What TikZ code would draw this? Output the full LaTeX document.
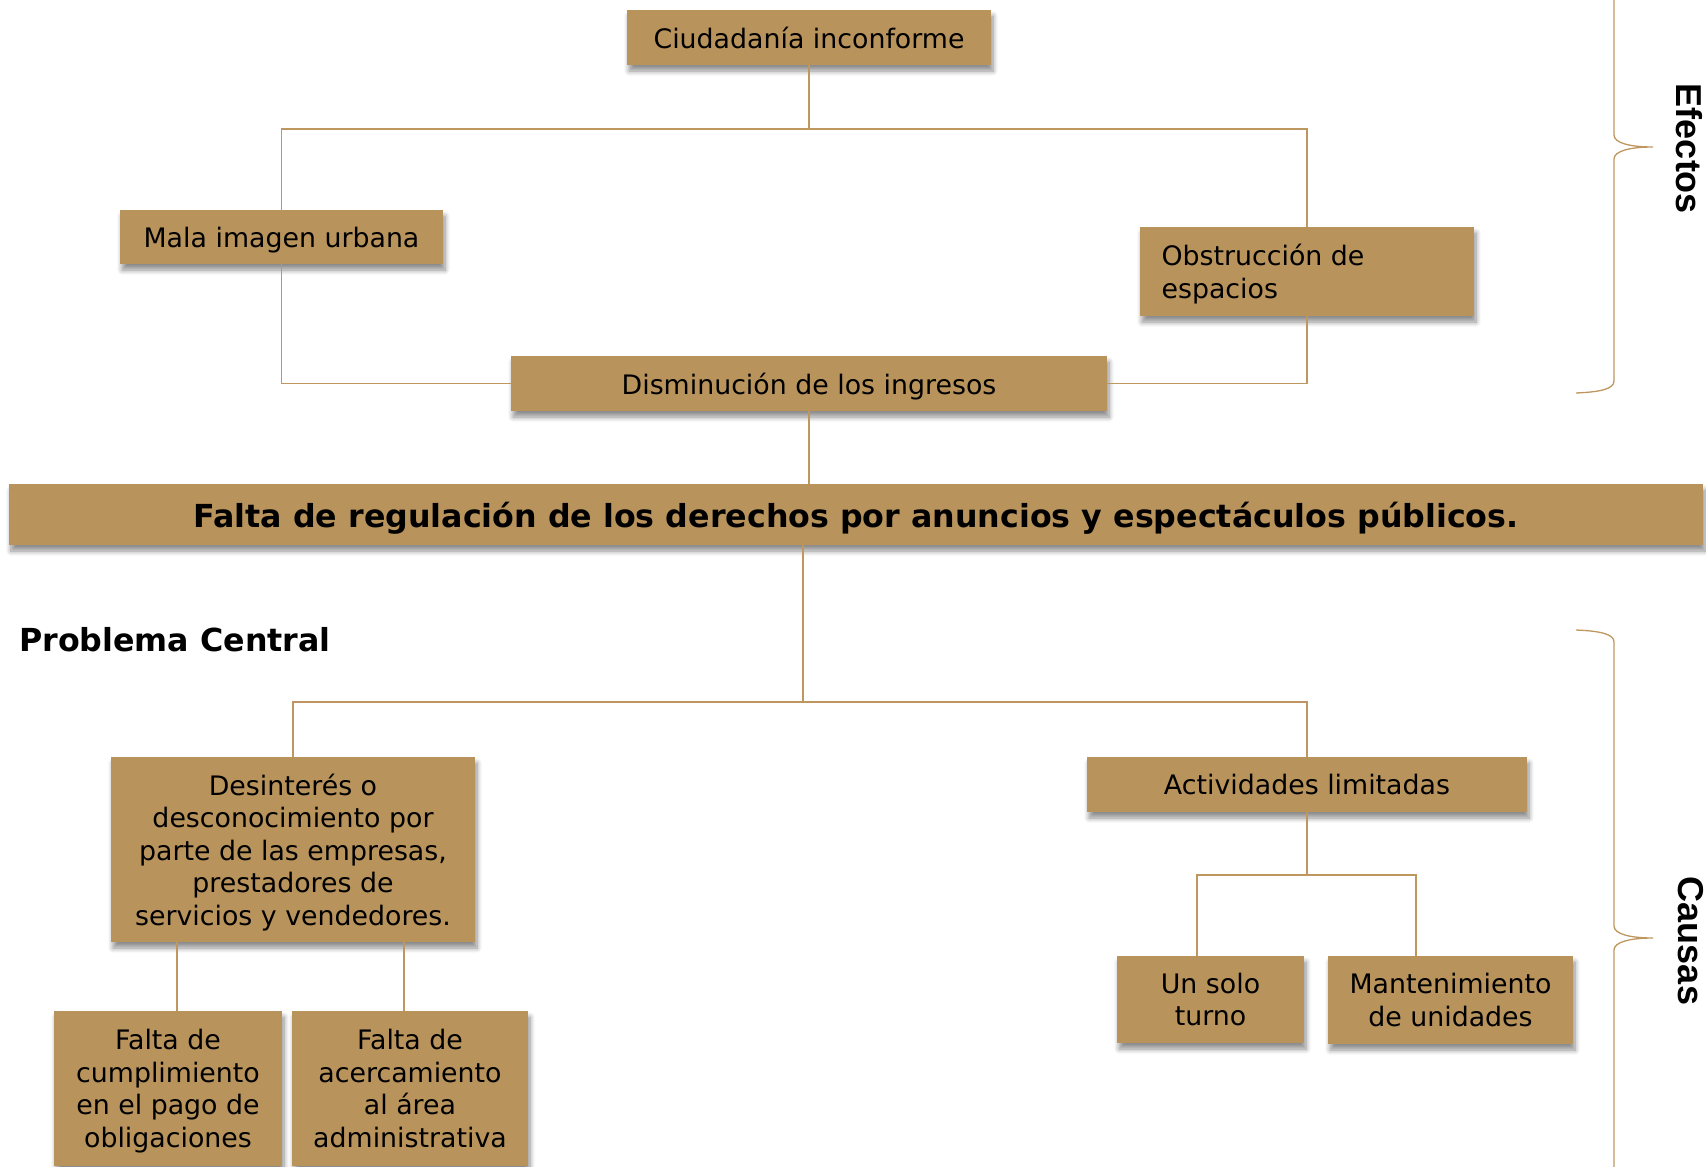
\documentclass[tikz,border=0pt]{standalone}
\usepackage{fontspec}
\setmainfont{DejaVu Sans}
\newfontfamily\brfont{Liberation Sans}
\usetikzlibrary{shadows.blur}
\definecolor{tan}{RGB}{185,147,92}
\definecolor{tanline}{RGB}{190,150,96}
\begin{document}
\begin{tikzpicture}[x=1pt,y=-1pt,
  box/.style={fill=tan, inner sep=0pt, align=center, text depth=0pt, font=\fontsize{26.8}{32.6}\selectfont,
    blur shadow={shadow xshift=2pt, shadow yshift=-6pt, shadow blur steps=8, shadow blur radius=5pt, shadow opacity=45}},
  conn/.style={draw=tanline, line width=1.7pt},
  brace/.style={draw=tanline, line width=1.3pt},
  side/.style={font=\brfont\bfseries\fontsize{36}{40}\selectfont, rotate=-90}]
\useasboundingbox (0,0) rectangle (1706,1167);
% effects
\node[box, minimum width=334pt, minimum height=89pt, align=left] (obst) at (1307,271.5) {Obstrucción de\rule{88pt}{0pt}\\espacios};
\node[box, minimum width=364pt, minimum height=55pt] (ciud) at (809,37.5) {Ciudadanía inconforme};
\node[box, minimum width=323pt, minimum height=54pt] (mala) at (281.5,237) {Mala imagen urbana};
\node[box, minimum width=596pt, minimum height=55pt] (dism) at (809,383.5) {Disminución de los ingresos};
% central
\node[box, minimum width=1694pt, minimum height=61pt, font=\bfseries\fontsize{31.7}{36}\selectfont] (central) at (856,514.5) {Falta de regulación de los derechos por anuncios y espectáculos públicos.};
\node[anchor=west, inner sep=0pt, font=\bfseries\fontsize{31.7}{36}\selectfont] (pc) at (19,640) {Problema Central};
% causes
\node[box, minimum width=364pt, minimum height=185pt] (desint) at (293,849.5) {Desinterés o\\desconocimiento por\\parte de las empresas,\\prestadores de\\servicios y vendedores.};
\node[box, minimum width=228pt, minimum height=155pt] (falta1) at (168,1088.5) {Falta de\\cumplimiento\\en el pago de\\obligaciones};
\node[box, minimum width=236pt, minimum height=155pt] (falta2) at (410,1088.5) {Falta de\\acercamiento\\al área\\administrativa};
\node[box, minimum width=440pt, minimum height=55pt] (activ) at (1307,784.5) {Actividades limitadas};
\node[box, minimum width=187pt, minimum height=87pt] (unsolo) at (1210.5,999.5) {Un solo\\turno};
\node[box, minimum width=245pt, minimum height=88pt] (mant) at (1450.5,1000) {Mantenimiento\\de unidades};
% connectors
\coordinate (eTop) at (809,129);
\draw[conn] (ciud.south) -- (eTop);
\draw[conn] (mala.north) |- (eTop) -| (obst.north);
\draw[conn] (mala.south) |- (dism.west);
\draw[conn] (obst.south) |- (dism.east);
\draw[conn] (dism.south) -- (dism.south |- central.north);
\coordinate (cBot) at (803,702);
\draw[conn] (central.south -| cBot) -- (cBot);
\draw[conn] (desint.north) |- (cBot) -| (activ.north);
\draw[conn] ([xshift=9pt]falta1.north) -- ([xshift=9pt]falta1.north |- desint.south);
\draw[conn] ([xshift=-6pt]falta2.north) -- ([xshift=-6pt]falta2.north |- desint.south);
\coordinate (aMid) at (1307,875);
\draw[conn] (activ.south) -- (aMid);
\draw[conn] ([xshift=-13.5pt]unsolo.north) |- (aMid) -| ([xshift=-34.5pt]mant.north);
% braces
\draw[brace] (1614,-5) -- (1614,135) .. controls (1614,143) and (1630,147) .. (1653,147)
  .. controls (1630,147) and (1614,151) .. (1614,159) -- (1614,381)
  .. controls (1614,389) and (1600,392) .. (1576,393);
\draw[brace] (1576,630) .. controls (1600,631) and (1614,634) .. (1614,642) -- (1614,926)
  .. controls (1614,934) and (1630,938) .. (1653,938)
  .. controls (1630,938) and (1614,942) .. (1614,950) -- (1614,1175);
\node[side] (efectos) at (1689,149) {Efectos};
\node[side] (causas) at (1691,941) {Causas};
\end{tikzpicture}
\end{document}
